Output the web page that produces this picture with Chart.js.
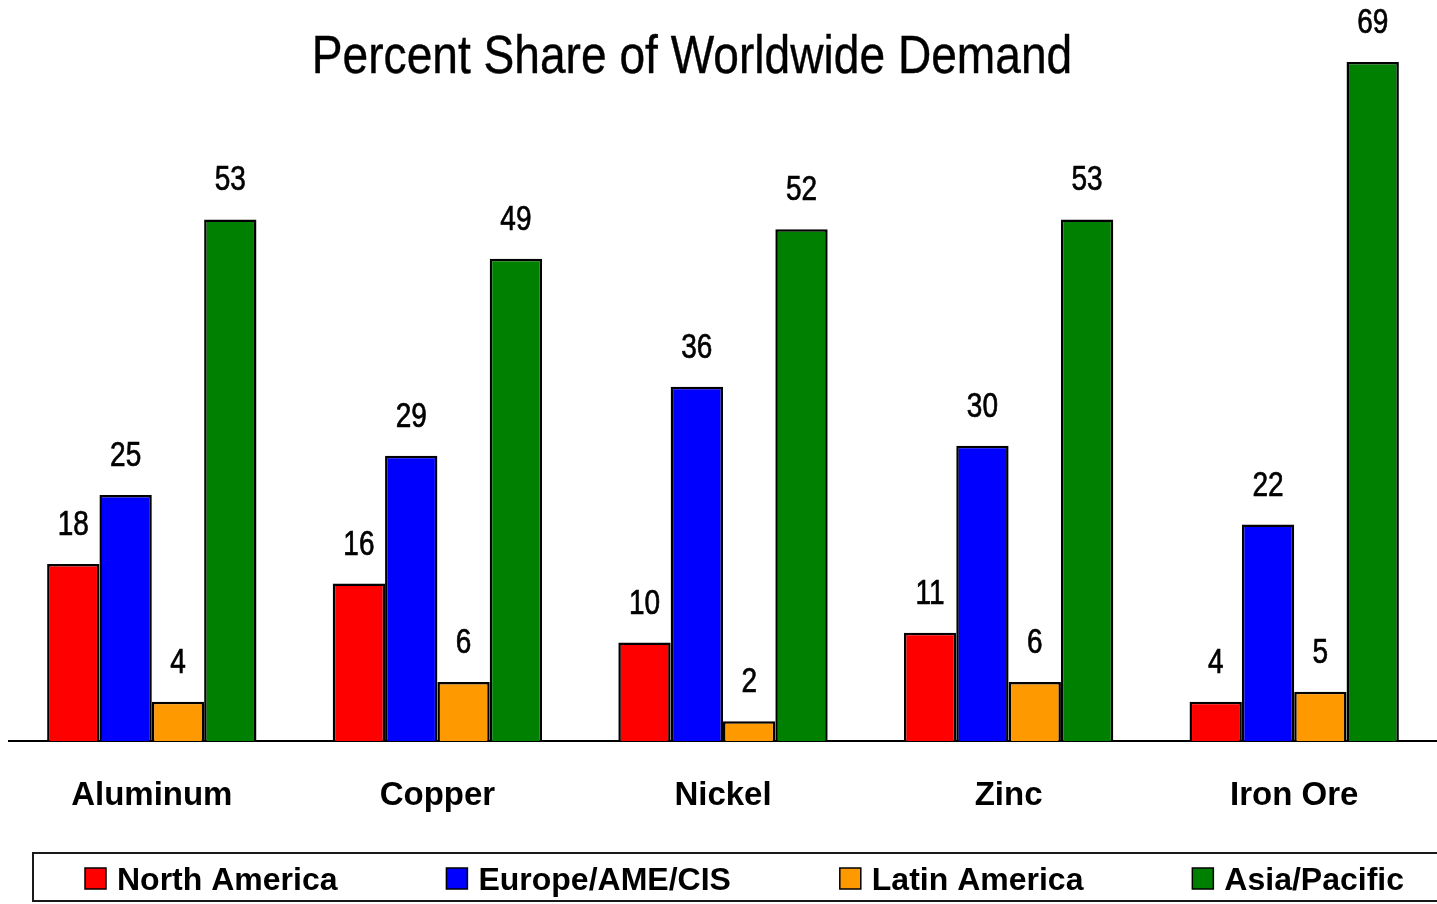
<!DOCTYPE html>
<html>
<head>
<meta charset="utf-8">
<title>Percent Share of Worldwide Demand</title>
<script src="https://cdn.jsdelivr.net/npm/chart.js@4/dist/chart.umd.min.js"></script>
<style>
  html, body { margin: 0; padding: 0; background: #ffffff; }
  #wrap { width: 1437px; height: 904px; position: relative; }
</style>
</head>
<body>
<div id="wrap"><canvas id="chart" width="1437" height="904"></canvas></div>
<script>
// Metals and regional share of demand (%)
const categories = ['Aluminum', 'Copper', 'Nickel', 'Zinc', 'Iron Ore'];
const northAmerica = [18, 16, 10, 11, 4];
const europeAmeCis = [25, 29, 36, 30, 22];
const latinAmerica = [4, 6, 2, 6, 5];
const asiaPacific = [53, 49, 52, 53, 69];
const seriesNames = ['North America', 'Europe/AME/CIS', 'Latin America', 'Asia/Pacific'];
const seriesColors = ['#ff0000', '#0000ff', '#ff9900', '#008000'];
const chartTitle = 'Percent Share of Worldwide Demand';

const SANS = '"Liberation Sans", Arial, sans-serif';

const seriesValues = [northAmerica, europeAmeCis, latinAmerica, asiaPacific];
const datasets = seriesNames.map((name, i) => ({
  label: name,
  data: seriesValues[i],
  backgroundColor: seriesColors[i],
  borderColor: '#000000',
  borderWidth: 2.5,
  borderSkipped: 'bottom',
  categoryPercentage: 0.733,
  barPercentage: 1.0
}));

// Draws text squeezed horizontally to get a condensed face
function narrowText(ctx, text, x, y, squeeze, weight) {
  ctx.save();
  ctx.translate(x, y);
  ctx.scale(squeeze, 1);
  ctx.fillText(text, 0, 0);
  if (weight) {
    ctx.lineWidth = weight;
    ctx.strokeStyle = ctx.fillStyle;
    ctx.strokeText(text, 0, 0);
  }
  ctx.restore();
}

// Title drawn a little left of centre, over the plot
const titlePlugin = {
  id: 'titleText',
  afterDraw(chart) {
    const ctx = chart.ctx;
    ctx.save();
    ctx.font = '53px ' + SANS;
    ctx.fillStyle = '#000';
    ctx.textAlign = 'center';
    ctx.textBaseline = 'alphabetic';
    narrowText(ctx, chartTitle, 692, 73, 0.87, 0.4);
    ctx.restore();
  }
};

// Numbers above each bar
const valueLabels = {
  id: 'valueLabels',
  afterDatasetsDraw(chart) {
    const ctx = chart.ctx;
    ctx.save();
    ctx.font = '35px ' + SANS;
    ctx.fillStyle = '#000';
    ctx.textAlign = 'center';
    ctx.textBaseline = 'alphabetic';
    chart.data.datasets.forEach((ds, di) => {
      const meta = chart.getDatasetMeta(di);
      meta.data.forEach((bar, i) => {
        narrowText(ctx, String(ds.data[i]), bar.x, bar.y - 29, 0.8, 0.7);
      });
    });
    ctx.restore();
  }
};

// Boxed legend along the bottom edge
const boxLegend = {
  id: 'boxLegend',
  afterDraw(chart) {
    const ctx = chart.ctx;
    const top = 853, bottom = 901, left = 33;
    ctx.save();
    ctx.strokeStyle = '#1a1a1a';
    ctx.lineWidth = 2;
    ctx.strokeRect(left, top, chart.width + 10 - left, bottom - top);

    ctx.font = 'bold 32px ' + SANS;
    ctx.textBaseline = 'alphabetic';
    ctx.textAlign = 'left';
    const sq = 21, gapText = 11;
    const items = chart.data.datasets.map(ds => ({
      label: ds.label, color: ds.backgroundColor, w: ctx.measureText(ds.label).width
    }));
    const startX = 85, endX = 1404;
    const used = items.reduce((s, it) => s + sq + gapText + it.w, 0);
    const gap = (endX - startX - used) / (items.length - 1);
    let x = startX;
    items.forEach(it => {
      ctx.fillStyle = it.color;
      ctx.fillRect(x, 868, sq, sq);
      ctx.strokeStyle = '#000';
      ctx.lineWidth = 1.5;
      ctx.strokeRect(x, 868, sq, sq);
      ctx.fillStyle = '#000';
      ctx.fillText(it.label, x + sq + gapText, 890);
      x += sq + gapText + it.w + gap;
    });
    ctx.restore();
  }
};

new Chart(document.getElementById('chart'), {
  type: 'bar',
  data: { labels: categories, datasets },
  options: {
    responsive: false,
    animation: false,
    devicePixelRatio: 1,
    layout: { padding: { left: 9, right: 0, top: 3, bottom: 0 } },
    plugins: {
      legend: { display: false },
      title: { display: false },
      tooltip: { enabled: false }
    },
    scales: {
      x: {
        grid: { display: false, drawTicks: false },
        border: { display: true, color: '#000', width: 2 },
        ticks: {
          color: '#000',
          font: { family: SANS, size: 33, weight: 'bold' },
          padding: 35,
          maxRotation: 0
        },
        afterFit(scale) { scale.height = 163; }
      },
      y: {
        display: false,
        min: 0,
        max: 75
      }
    }
  },
  plugins: [titlePlugin, valueLabels, boxLegend]
});
</script>
</body>
</html>
